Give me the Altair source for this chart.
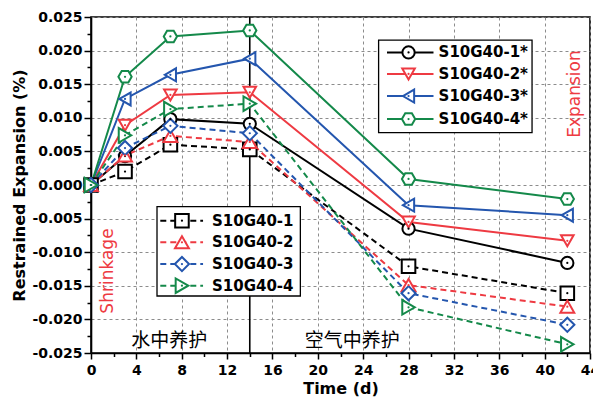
import altair as alt
import pandas as pd

# ---------------- data ----------------
days = [0, 3, 7, 14, 28, 42]
s1_star = [0.0, 0.0043, 0.0098, 0.0091, -0.0065, -0.0116]
s2_star = [0.0, 0.0089, 0.0134, 0.0138, -0.0055, -0.0083]
s3_star = [0.0, 0.0128, 0.0164, 0.0188, -0.0030, -0.0045]
s4_star = [0.0, 0.0161, 0.0221, 0.0230, 0.0009, -0.0021]
s1 = [0.0, 0.0020, 0.0060, 0.0053, -0.0121, -0.0161]
s2 = [0.0, 0.0044, 0.0073, 0.0064, -0.0149, -0.0181]
s3 = [0.0, 0.0055, 0.0088, 0.0077, -0.0161, -0.0208]
s4 = [0.0, 0.0074, 0.0113, 0.0121, -0.0182, -0.0237]

solid_names = ["S10G40-1*", "S10G40-2*", "S10G40-3*", "S10G40-4*"]
dashed_names = ["S10G40-1", "S10G40-2", "S10G40-3", "S10G40-4"]
series_colors = ["#000000", "#ee3a42", "#2456ae", "#14894a"]
HEX = "M-1,0L-0.5,-0.866L0.5,-0.866L1,0L0.5,0.866L-0.5,0.866Z"
solid_shapes = ["circle", "triangle-down", "triangle-left", HEX]
dashed_shapes = ["square", "triangle-up", "diamond", "triangle-right"]
solid_sizes = [150, 210, 210, 170]
dashed_sizes = [110, 210, 260, 200]

x_ticks = [0, 2, 4, 6, 8, 10, 12, 14, 16, 18, 20, 22, 24, 26, 28, 30, 32, 34, 36, 38, 40, 42, 44]
y_ticks = [-0.025, -0.0225, -0.02, -0.0175, -0.015, -0.0125, -0.01, -0.0075, -0.005, -0.0025,
           0.0, 0.0025, 0.005, 0.0075, 0.01, 0.0125, 0.015, 0.0175, 0.02, 0.0225, 0.025]

# legend layout (in data units)
leg1_rows = [0.01973, 0.01652, 0.01324, 0.00982]
leg1_x = [26.1, 30.2, 28.0, 30.65]   # line start, line end, marker, text
leg1_box = [25.36, 38.89, 0.00778, 0.02155]
leg2_rows = [-0.00531, -0.00853, -0.01176, -0.01499]
leg2_x = [6.11, 9.88, 8.02, 10.67]
leg2_box = [5.82, 18.46, -0.01652, -0.00323]

notes_text = ["水中养护", "空气中养护"]
notes_x = [6.9, 23.04]
notes_y = [-0.0232, -0.0232]

# ---------------- tables ----------------
solid_vals = [s1_star, s2_star, s3_star, s4_star]
dashed_vals = [s1, s2, s3, s4]
rows = []
for n, v in zip(solid_names, solid_vals):
    for d, val in zip(days, v):
        rows.append({"series": n, "day": d, "value": val, "style": "solid"})
for n, v in zip(dashed_names, dashed_vals):
    for d, val in zip(days, v):
        rows.append({"series": n, "day": d, "value": val, "style": "dashed"})
df = pd.DataFrame(rows)
df_solid = df[df["style"] == "solid"]
df_dashed = df[df["style"] == "dashed"]

all_names = solid_names + dashed_names
color_scale = alt.Scale(domain=all_names, range=series_colors + series_colors)
shape_scale = alt.Scale(domain=all_names, range=solid_shapes + dashed_shapes)
size_scale = alt.Scale(domain=all_names, range=solid_sizes + dashed_sizes)

leg_rows = []
for n, y in zip(solid_names, leg1_rows):
    leg_rows.append({"series": n, "x1": leg1_x[0], "x2": leg1_x[1], "xm": leg1_x[2], "xt": leg1_x[3], "y": y, "style": "solid"})
for n, y in zip(dashed_names, leg2_rows):
    leg_rows.append({"series": n, "x1": leg2_x[0], "x2": leg2_x[1], "xm": leg2_x[2], "xt": leg2_x[3], "y": y, "style": "dashed"})
leg = pd.DataFrame(leg_rows)
boxes = pd.DataFrame([
    {"x": leg1_box[0], "x2": leg1_box[1], "y": leg1_box[2], "y2": leg1_box[3]},
    {"x": leg2_box[0], "x2": leg2_box[1], "y": leg2_box[2], "y2": leg2_box[3]},
])
notes = pd.DataFrame({"t": notes_text, "x": notes_x, "y": notes_y})

# ---------------- axes ----------------
FONT = "DejaVu Sans"
x_major = "datum.value % 4 === 0"
y_major = "abs(round(datum.value*10000)) % 50 == 0"

x_axis = alt.Axis(
    values=x_ticks, tickCount=100,
    labelExpr=f"{x_major} ? format(datum.value, 'd') : ''",
    tickSize={"condition": {"test": x_major, "value": 6}, "value": 3.5},
    gridOpacity={"condition": {"test": x_major, "value": 1}, "value": 0},
    title="Time (d)",
    titleFont=FONT, titleFontSize=16, titleFontWeight="bold", titlePadding=3,
    labelFont=FONT, labelFontSize=14, labelFontWeight="bold", labelPadding=4,
    labelColor="black", titleColor="black", labelFlush=False, labelOverlap=False,
)
y_axis = alt.Axis(
    values=y_ticks, tickCount=100,
    labelExpr=f"{y_major} ? ((datum.value < -0.00001 ? '-' : '') + format(abs(datum.value), '.3f')) : ''",
    tickSize={"condition": {"test": y_major, "value": 7}, "value": 4},
    gridOpacity={"condition": {"test": y_major, "value": 1}, "value": 0},
    title="Restrained Expansion (%)",
    titleFont=FONT, titleFontSize=16, titleFontWeight="bold", titlePadding=4,
    labelFont=FONT, labelFontSize=14, labelFontWeight="bold", labelPadding=2,
    labelColor="black", titleColor="black", labelFlush=False, labelOverlap=False,
)
xs = alt.Scale(domain=[0, 44], nice=False)
ys = alt.Scale(domain=[-0.025, 0.025], nice=False)
X = alt.X("day:Q", scale=xs, axis=x_axis)
Y = alt.Y("value:Q", scale=ys, axis=y_axis)

vline = alt.Chart(pd.DataFrame({"d": [14]})).mark_rule(color="black", strokeWidth=1.6).encode(
    x=alt.X("d:Q", scale=xs))

lines_solid = alt.Chart(df_solid).mark_line(strokeWidth=2).encode(
    x=X, y=Y, stroke=alt.Stroke("series:N", scale=color_scale, legend=None), detail="series:N")
lines_dashed = alt.Chart(df_dashed).mark_line(strokeWidth=2, strokeDash=[6, 4]).encode(
    x=X, y=Y, stroke=alt.Stroke("series:N", scale=color_scale, legend=None), detail="series:N")

points = alt.Chart(df).mark_point(fill="white", fillOpacity=1, opacity=1, strokeWidth=2).encode(
    x=X, y=Y,
    stroke=alt.Stroke("series:N", scale=color_scale, legend=None),
    shape=alt.Shape("series:N", scale=shape_scale, legend=None),
    size=alt.Size("series:N", scale=size_scale, legend=None),
)
dots = alt.Chart(df).mark_point(filled=True, size=5, opacity=1).encode(
    x=X, y=Y, fill=alt.Fill("series:N", scale=color_scale, legend=None))

note_text = alt.Chart(notes).mark_text(font="Noto Sans CJK SC", fontSize=19, color="black",
                                        baseline="middle", align="center").encode(
    x="x:Q", y="y:Q", text="t:N")
shrink = alt.Chart(pd.DataFrame({"t": ["Shrinkage"], "x": [1.53], "y": [-0.0128]})).mark_text(
    font=FONT, fontSize=17, color="#ee3a42", angle=270, baseline="middle", align="center").encode(
    x="x:Q", y="y:Q", text="t:N")
expan = alt.Chart(pd.DataFrame({"t": ["Expansion"], "x": [42.7], "y": [0.01354]})).mark_text(
    font=FONT, fontSize=17, color="#ee3a42", angle=270, baseline="middle", align="center").encode(
    x="x:Q", y="y:Q", text="t:N")

box = alt.Chart(boxes).mark_rect(fill="white", stroke="black", strokeWidth=1.3).encode(
    x="x:Q", x2="x2:Q", y="y:Q", y2="y2:Q")
leg_solid = alt.Chart(leg[leg["style"] == "solid"]).mark_rule(strokeWidth=2).encode(
    x="x1:Q", x2="x2:Q", y="y:Q", stroke=alt.Stroke("series:N", scale=color_scale, legend=None))
leg_dashed = alt.Chart(leg[leg["style"] == "dashed"]).mark_rule(strokeWidth=2, strokeDash=[6, 4]).encode(
    x="x1:Q", x2="x2:Q", y="y:Q", stroke=alt.Stroke("series:N", scale=color_scale, legend=None))
leg_pts = alt.Chart(leg).mark_point(fill="white", fillOpacity=1, opacity=1, strokeWidth=2).encode(
    x="xm:Q", y="y:Q",
    stroke=alt.Stroke("series:N", scale=color_scale, legend=None),
    shape=alt.Shape("series:N", scale=shape_scale, legend=None),
    size=alt.Size("series:N", scale=size_scale, legend=None),
)
leg_dots = alt.Chart(leg).mark_point(filled=True, size=5, opacity=1).encode(
    x="xm:Q", y="y:Q", fill=alt.Fill("series:N", scale=color_scale, legend=None))
leg_text = alt.Chart(leg).mark_text(font=FONT, fontSize=15, fontWeight="bold", color="black",
                                    align="left", baseline="middle").encode(
    x="xt:Q", y="y:Q", text="series:N")

chart = alt.layer(
    vline, lines_solid, lines_dashed, points, dots, note_text, shrink, expan,
    box, leg_solid, leg_dashed, leg_pts, leg_dots, leg_text,
).properties(
    width=499, height=336,
    autosize=alt.AutoSizeParams(type="none"),
    padding={"left": 91, "top": 17, "right": 3, "bottom": 48},
    background="white",
).configure_view(
    stroke="black", strokeWidth=1.6,
).configure_axis(
    domainColor="black", domainWidth=1.6, tickColor="black", tickWidth=1.5,
    gridColor="#8c8c8c", gridDash=[3, 3], gridWidth=1,
)

chart.save("out.html", embed_options={"renderer": "svg", "actions": False})
